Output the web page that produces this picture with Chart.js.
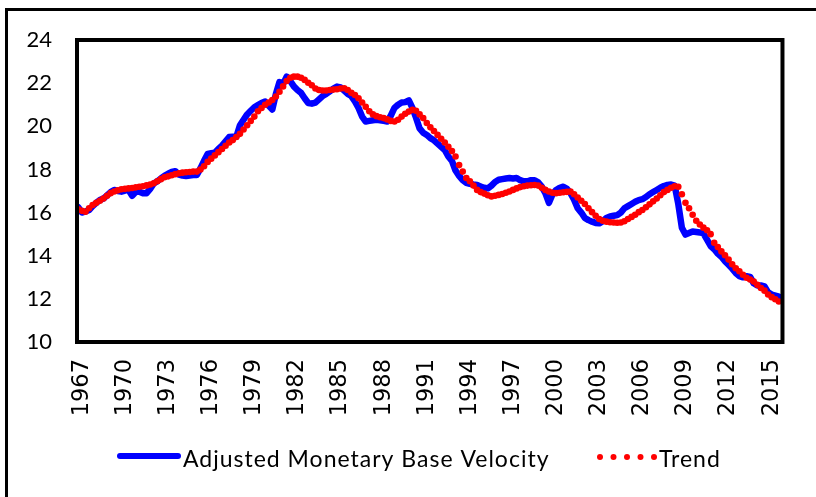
<!DOCTYPE html>
<html><head><meta charset="utf-8">
<script src="https://cdn.jsdelivr.net/npm/chart.js@4/dist/chart.umd.min.js"></script>
<style>
html,body{margin:0;padding:0;background:#fff;overflow:hidden}
#wrap{position:relative;width:816px;height:497px;overflow:hidden}
#frame{position:absolute;left:5px;top:8px;width:840px;height:540px;border-left:3px solid #000;border-top:3px solid #000;box-sizing:border-box;pointer-events:none}
canvas{position:absolute;left:0;top:0}
</style></head><body>
<div id="wrap"><canvas id="c" width="816" height="497"></canvas><div id="frame"></div></div>
<script>
// First quarterly observation (decimal year); one value per quarter
const startYear = 1966.75;
const tickYears = [1967,1970,1973,1976,1979,1982,1985,1988,1991,1994,1997,2000,2003,2006,2009,2012,2015];
const yTicks = [10,12,14,16,18,20,22,24];
const seriesNames = ['Adjusted Monetary Base Velocity','Trend'];

const velocity = [16.25,
16.0,16.05,16.12,16.3, 16.45,16.58,16.65,16.8, 16.95,17.05,17.0,16.97, 17.02,17.05,16.78,16.95,
16.97,16.9,16.9,17.1, 17.35,17.45,17.58,17.7, 17.8,17.88,17.92,17.76, 17.72,17.7,17.72,17.74,
17.74,18.05,18.4,18.72, 18.75,18.77,18.95,19.1, 19.3,19.5,19.52,19.52, 20.05,20.3,20.55,20.72,
20.88,20.98,21.08,21.15, 20.95,20.78,21.5,22.05, 21.95,22.3,22.1,21.85, 21.68,21.55,21.3,21.08,
21.05,21.1,21.25,21.4, 21.5,21.62,21.75,21.84, 21.8,21.65,21.5,21.4, 21.15,20.85,20.45,20.22,
20.25,20.28,20.3,20.28, 20.25,20.22,20.5,20.85, 21.0,21.1,21.12,21.2, 20.85,20.4,19.9,19.7,
19.6,19.45,19.35,19.2, 19.05,18.9,18.6,18.4, 17.95,17.7,17.5,17.38, 17.33,17.3,17.28,17.2,
17.15,17.12,17.25,17.42, 17.52,17.55,17.58,17.6, 17.58,17.6,17.5,17.45, 17.45,17.5,17.5,17.4,
17.2,16.9,16.45,16.85, 17.05,17.15,17.2,17.1, 16.9,16.6,16.2,16.0, 15.75,15.65,15.58,15.52,
15.5,15.6,15.75,15.82, 15.85,15.88,16.0,16.2, 16.3,16.4,16.5,16.58, 16.62,16.72,16.85,16.95,
17.05,17.15,17.23,17.28, 17.3,17.25,16.4,15.3, 14.98,15.05,15.12,15.1, 15.08,15.04,14.75,14.45,
14.3,14.1,13.95,13.75, 13.58,13.4,13.2,13.05, 13.0,13.05,13.02,12.72, 12.62,12.62,12.58,12.3,
12.2,12.15,12.1];

const trend = [16.15,
16.08,16.04,16.2,16.35, 16.45,16.55,16.65,16.78, 16.9,16.98,17.03,17.08, 17.1,17.12,17.14,17.17,
17.2,17.22,17.26,17.3, 17.36,17.45,17.55,17.64, 17.68,17.73,17.78,17.82, 17.85,17.87,17.88,17.9,
17.9,18.0,18.15,18.35, 18.5,18.65,18.8,18.95, 19.1,19.25,19.36,19.5, 19.65,19.85,20.05,20.25,
20.45,20.7,20.85,21.0, 21.1,21.22,21.38,21.6, 21.85,22.1,22.25,22.3, 22.3,22.25,22.15,22.02,
21.9,21.75,21.68,21.66, 21.66,21.68,21.7,21.72, 21.75,21.76,21.68,21.55, 21.45,21.3,21.1,20.9,
20.7,20.55,20.47,20.42, 20.38,20.32,20.25,20.22, 20.3,20.45,20.58,20.68, 20.76,20.72,20.55,20.38,
20.15,19.95,19.78,19.6, 19.42,19.25,19.05,18.85, 18.6,18.2,17.9,17.6, 17.45,17.25,17.05,16.95,
16.88,16.8,16.75,16.78, 16.82,16.86,16.92,16.98, 17.05,17.12,17.18,17.22, 17.25,17.27,17.28,17.25,
17.15,17.05,16.98,16.92, 16.9,16.92,16.94,16.96, 16.97,16.85,16.7,16.55, 16.4,16.2,16.02,15.85,
15.7,15.62,15.58,15.55, 15.54,15.53,15.54,15.6, 15.7,15.8,15.9,16.02, 16.12,16.25,16.38,16.52,
16.65,16.8,16.95,17.05, 17.15,17.22,17.2,16.85, 16.45,16.2,15.9,15.62, 15.45,15.3,15.18,15.0,
14.6,14.4,14.2,14.02, 13.82,13.6,13.42,13.28, 13.12,12.98,12.9,12.8, 12.65,12.5,12.38,12.2,
12.08,11.98,11.88];

const toPoints = arr => arr.map((v, i) => ({x: startYear + i * 0.25, y: v}));

const frameAndLegend = {
  id: 'frameAndLegend',
  afterDraw(chart) {
    const ctx = chart.ctx, a = chart.chartArea;
    ctx.save();
    ctx.strokeStyle = '#000';
    ctx.lineWidth = 4;
    ctx.strokeRect(a.left, a.top, a.right - a.left, a.bottom - a.top);
    // legend
    const ly = 456;
    ctx.strokeStyle = '#0000FF';
    ctx.lineWidth = 6;
    ctx.lineCap = 'round';
    ctx.beginPath(); ctx.moveTo(120, ly); ctx.lineTo(178, ly); ctx.stroke();
    ctx.fillStyle = '#000';
    ctx.font = '23px Lato';
    ctx.letterSpacing = '1px';
    ctx.textBaseline = 'alphabetic';
    ctx.textAlign = 'left';
    ctx.fillText(seriesNames[0], 183, 467);
    ctx.fillStyle = '#FF0000';
    for (let k = 0; k < 5; k++) {
      ctx.beginPath(); ctx.arc(600 + k * 13.5, ly + 1, 3, 0, Math.PI * 2); ctx.fill();
    }
    ctx.fillStyle = '#000';
    ctx.fillText(seriesNames[1], 659, 467);
    ctx.restore();
  }
};

new Chart(document.getElementById('c'), {
  type: 'line',
  data: {
    datasets: [
      { label: seriesNames[0], data: toPoints(velocity), borderColor: '#0000FF', borderWidth: 6.5,
        pointRadius: 0, tension: 0, fill: false, order: 2, borderJoinStyle: 'round', borderCapStyle: 'round' },
      { label: seriesNames[1], data: toPoints(trend), showLine: false, borderWidth: 0,
        pointRadius: 3.3, pointBackgroundColor: '#FF0000', pointBorderWidth: 0, pointBorderColor: '#FF0000', order: 1 }
    ]
  },
  options: {
    responsive: false, animation: false, devicePixelRatio: 1,
    layout: { padding: { left: 0, top: 40, right: 20, bottom: 0 } },
    plugins: { legend: { display: false }, tooltip: { enabled: false } },
    scales: {
      x: {
        type: 'linear', min: 1966.66, max: 2015.75,
        grid: { display: false, drawTicks: false }, border: { display: false },
        afterBuildTicks: s => { s.ticks = tickYears.map(v => ({ value: v })); },
        afterFit: s => { s.height = 155; },
        ticks: { autoSkip: false, minRotation: 90, maxRotation: 90, padding: 17, color: '#000',
          font: { family: 'DejaVu Sans', size: 22.5 }, callback: v => String(v) }
      },
      y: {
        min: 10, max: 24,
        grid: { display: false, drawTicks: false }, border: { display: false },
        afterBuildTicks: s => { s.ticks = yTicks.map(v => ({ value: v })); },
        afterFit: s => { s.width = 77; },
        ticks: { padding: 25, color: '#000', font: { family: 'Lato', size: 22 } }
      }
    }
  },
  plugins: [frameAndLegend]
});
</script>
</body></html>
